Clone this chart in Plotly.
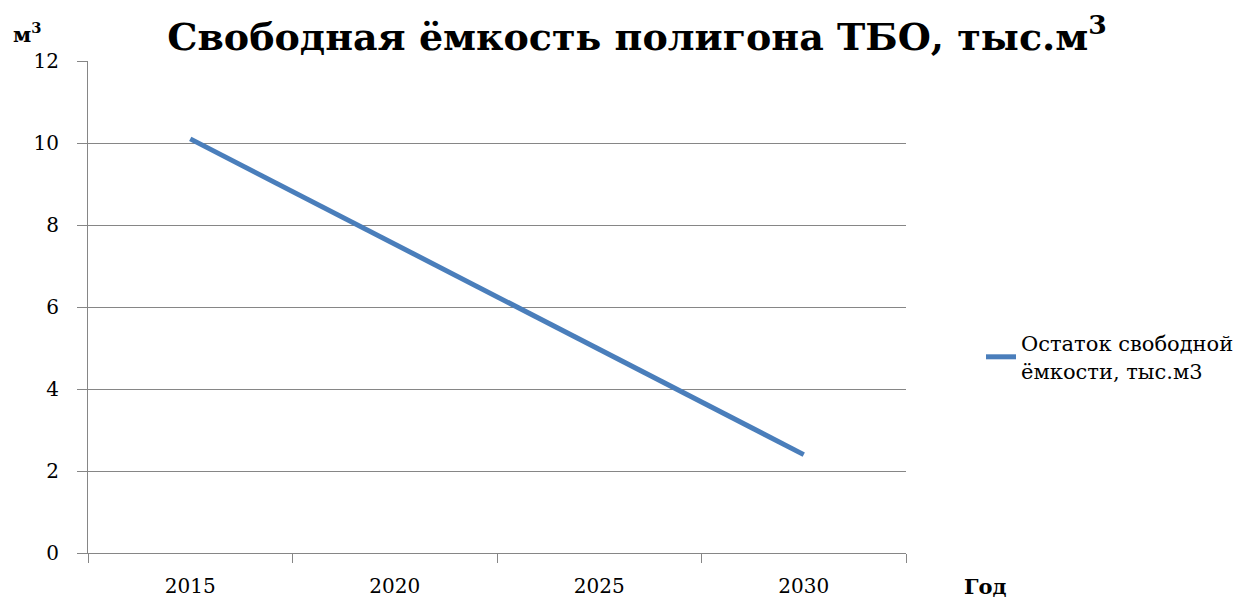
import plotly.graph_objects as go

years = ["2015", "2020", "2025", "2030"]
capacity = [10.1, 7.53, 4.97, 2.4]
series_name = "Остаток свободной<br>ёмкости, тыс.м3"
title_text = "<b>Свободная ёмкость полигона ТБО, тыс.м<sup>3</sup></b>"
y_ticks = [0, 2, 4, 6, 8, 10, 12]

FONT = "DejaVu Serif"
GRID = "#868686"

fig = go.Figure()
fig.add_trace(go.Scatter(
    x=years, y=capacity, mode="lines", name=series_name,
    line=dict(color="#4A7EBB", width=5),
))

fig.update_layout(
    width=1256, height=602,
    paper_bgcolor="white", plot_bgcolor="white",
    margin=dict(l=88, r=350, t=61, b=49),
    font=dict(family=FONT, size=20, color="black"),
    title=dict(text=title_text, x=637/1256, xanchor="center", xref="container",
               y=1-37/602, yanchor="middle", yref="container",
               font=dict(family=FONT, size=38, color="black")),
    showlegend=True,
    legend=dict(xref="container", yref="container", x=981/1256, y=1-323/602,
                xanchor="left", yanchor="top", font=dict(family=FONT, size=21),
                bgcolor="rgba(0,0,0,0)", borderwidth=0),
    xaxis=dict(type="category", range=[-0.5, 3.5], tickson="boundaries",
               ticks="outside", ticklen=9, tickcolor=GRID, tickwidth=1,
               showline=True, linecolor=GRID, linewidth=1, showgrid=False,
               tickfont=dict(family=FONT, size=20), ticklabelstandoff=15,
               automargin=False, fixedrange=True),
    yaxis=dict(range=[0, 12], tickvals=y_ticks, ticks="outside", ticklen=10,
               tickcolor=GRID, showline=True, linecolor=GRID, linewidth=1,
               showgrid=True, gridcolor=GRID, gridwidth=1, zeroline=False,
               tickfont=dict(family=FONT, size=20), ticklabelstandoff=14,
               automargin=False),
)

fig.add_annotation(text="<b>м<sup>3</sup></b>", xref="paper", yref="paper",
                   x=0, y=1, xshift=-88+11, yshift=28, xanchor="left", yanchor="middle",
                   showarrow=False, font=dict(family=FONT, size=21))
fig.add_annotation(text="<b>Год</b>", xref="paper", yref="paper",
                   x=1, y=0, xshift=962-906, yshift=-33, xanchor="left", yanchor="middle",
                   showarrow=False, font=dict(family=FONT, size=21))

fig.write_html("out.html", config={"displayModeBar": False},
               post_script="document.body.style.margin='0';")
